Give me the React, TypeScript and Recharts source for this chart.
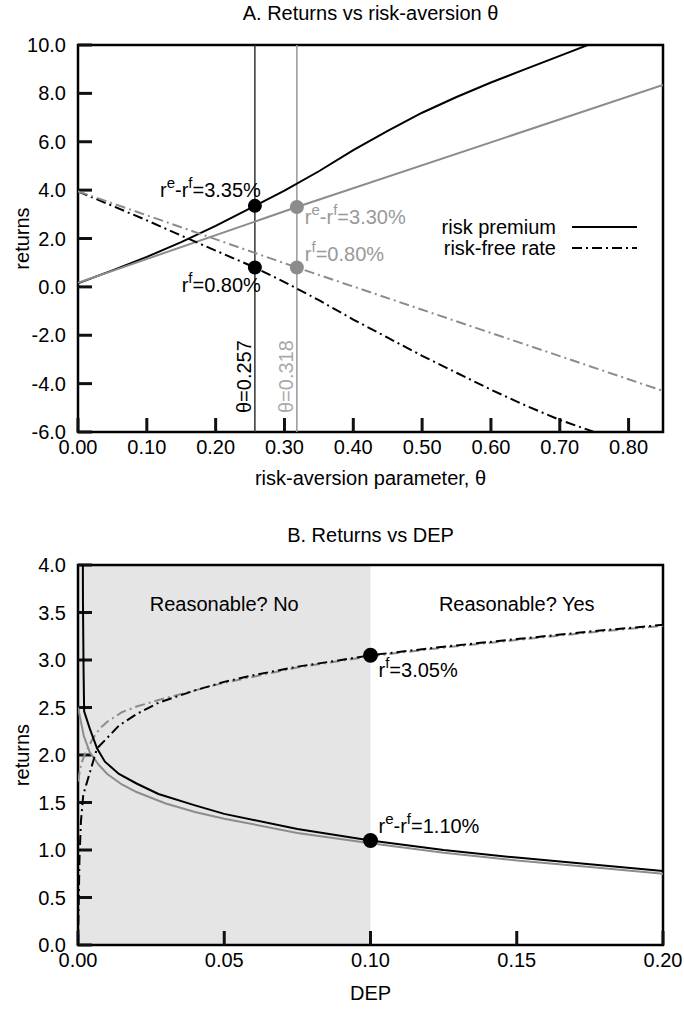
import {
  LineChart,
  Line,
  XAxis,
  YAxis,
  ReferenceLine,
  ReferenceDot,
  ReferenceArea,
  Legend,
} from "recharts";

type Pt = { x: number; y: number };

const FONT = "'Liberation Sans', Arial, Helvetica, sans-serif";
const FS = 20;
const GRAY = "#8c8c8c";
const DASHDOT = "10 4 2 4";
const TICK_PX = 14;
const PLOT_W = 585;

// ---- panel A: returns vs risk-aversion theta ----
const thetaTicks = [0, 0.1, 0.2, 0.3, 0.4, 0.5, 0.6, 0.7, 0.8];
const returnTicksA = [-6, -4, -2, 0, 2, 4, 6, 8, 10];

const premiumA: Pt[] = [
  { x: 0, y: 0.15 }, { x: 0.05, y: 0.68 }, { x: 0.1, y: 1.24 }, { x: 0.15, y: 1.85 },
  { x: 0.2, y: 2.52 }, { x: 0.257, y: 3.35 }, { x: 0.3, y: 3.98 }, { x: 0.35, y: 4.78 },
  { x: 0.4, y: 5.65 }, { x: 0.45, y: 6.45 }, { x: 0.5, y: 7.2 }, { x: 0.55, y: 7.85 },
  { x: 0.6, y: 8.45 }, { x: 0.65, y: 9.0 }, { x: 0.7, y: 9.55 }, { x: 0.75, y: 10.1 },
  { x: 0.8, y: 10.6 }, { x: 0.85, y: 11.05 },
];
const premiumAltA: Pt[] = [
  { x: 0, y: 0.17 }, { x: 0.318, y: 3.3 }, { x: 0.85, y: 8.35 },
];
const riskFreeA: Pt[] = [
  { x: 0, y: 3.95 }, { x: 0.05, y: 3.35 }, { x: 0.1, y: 2.75 }, { x: 0.15, y: 2.12 },
  { x: 0.2, y: 1.5 }, { x: 0.257, y: 0.8 }, { x: 0.3, y: 0.2 }, { x: 0.35, y: -0.55 },
  { x: 0.4, y: -1.35 }, { x: 0.45, y: -2.1 }, { x: 0.5, y: -2.85 }, { x: 0.55, y: -3.55 },
  { x: 0.6, y: -4.25 }, { x: 0.65, y: -4.9 }, { x: 0.7, y: -5.5 }, { x: 0.75, y: -6.0 },
  { x: 0.8, y: -6.45 }, { x: 0.85, y: -6.85 },
];
const riskFreeAltA: Pt[] = [
  { x: 0, y: 3.95 }, { x: 0.318, y: 0.8 }, { x: 0.85, y: -4.3 },
];
const thetaMarks = [
  { theta: 0.257, color: "#333", text: "#000" },
  { theta: 0.318, color: "#999", text: "#aaa" },
];

// ---- panel B: returns vs DEP ----
const depTicks = [0, 0.05, 0.1, 0.15, 0.2];
const returnTicksB = [0, 0.5, 1, 1.5, 2, 2.5, 3, 3.5, 4];

const premiumB: Pt[] = [
  { x: 0.0016, y: 4.6 }, { x: 0.0017, y: 3.6 }, { x: 0.0019, y: 2.9 }, { x: 0.0021, y: 2.46 },
  { x: 0.004, y: 2.28 }, { x: 0.0065, y: 2.07 }, { x: 0.0092, y: 1.93 }, { x: 0.014, y: 1.8 },
  { x: 0.02, y: 1.7 }, { x: 0.0275, y: 1.59 }, { x: 0.04, y: 1.47 }, { x: 0.05, y: 1.38 },
  { x: 0.075, y: 1.22 }, { x: 0.1, y: 1.1 }, { x: 0.125, y: 1.0 }, { x: 0.15, y: 0.92 },
  { x: 0.175, y: 0.85 }, { x: 0.2, y: 0.78 },
];
const premiumAltB: Pt[] = [
  { x: 0, y: 2.5 }, { x: 0.002, y: 2.2 }, { x: 0.004, y: 2.03 }, { x: 0.007, y: 1.9 },
  { x: 0.01, y: 1.8 }, { x: 0.015, y: 1.69 }, { x: 0.02, y: 1.61 }, { x: 0.03, y: 1.49 },
  { x: 0.04, y: 1.4 }, { x: 0.05, y: 1.33 }, { x: 0.075, y: 1.18 }, { x: 0.1, y: 1.07 },
  { x: 0.125, y: 0.97 }, { x: 0.15, y: 0.89 }, { x: 0.175, y: 0.82 }, { x: 0.2, y: 0.75 },
];
const riskFreeB: Pt[] = [
  { x: 0, y: 0 }, { x: 0.0005, y: 0.9 }, { x: 0.001, y: 1.3 }, { x: 0.0018, y: 1.58 },
  { x: 0.0038, y: 1.79 }, { x: 0.0065, y: 2.07 }, { x: 0.01, y: 2.18 }, { x: 0.014, y: 2.31 },
  { x: 0.02, y: 2.43 }, { x: 0.0275, y: 2.55 }, { x: 0.04, y: 2.68 }, { x: 0.05, y: 2.77 },
  { x: 0.06, y: 2.84 }, { x: 0.075, y: 2.93 }, { x: 0.09, y: 3.0 }, { x: 0.1, y: 3.05 },
  { x: 0.125, y: 3.14 }, { x: 0.15, y: 3.22 }, { x: 0.175, y: 3.3 }, { x: 0.2, y: 3.37 },
];
const riskFreeAltB: Pt[] = [
  { x: 0, y: 1.72 }, { x: 0.001, y: 1.9 }, { x: 0.0025, y: 2.02 }, { x: 0.005, y: 2.17 },
  { x: 0.0075, y: 2.28 }, { x: 0.01, y: 2.35 }, { x: 0.015, y: 2.45 }, { x: 0.02, y: 2.51 },
  { x: 0.03, y: 2.6 }, { x: 0.04, y: 2.68 }, { x: 0.05, y: 2.76 }, { x: 0.075, y: 2.92 },
  { x: 0.1, y: 3.04 }, { x: 0.125, y: 3.13 }, { x: 0.15, y: 3.21 }, { x: 0.175, y: 3.29 },
  { x: 0.2, y: 3.36 },
];

// label parts: [text, isSuperscript]
type Part = [string, boolean];
const premiumParts = (v: number): Part[] => [["r", false], ["e", true], ["-r", false], ["f", true], [`=${v.toFixed(2)}%`, false]];
const rfParts = (v: number): Part[] => [["r", false], ["f", true], [`=${v.toFixed(2)}%`, false]];

function SupText({ x, y, parts, anchor, color }: { x: number; y: number; parts: Part[]; anchor: string; color: string }) {
  let prevSup = false;
  return (
    <text x={x} y={y} textAnchor={anchor} fontFamily={FONT} fontSize={FS} fill={color}>
      {parts.map(([t, sup], i) => {
        const dy = sup && !prevSup ? -9 : !sup && prevSup ? 9 : 0;
        prevSup = sup;
        return (
          <tspan key={i} dy={dy} fontSize={sup ? 15 : FS}>
            {t}
          </tspan>
        );
      })}
    </text>
  );
}

function markerShape(color: string, r: number, parts: Part[], dx: number, dy: number, anchor: string, textColor: string) {
  return (p: any) => (
    <g>
      <circle cx={p.cx} cy={p.cy} r={r} fill={color} />
      <SupText x={p.cx + dx} y={p.cy + dy} parts={parts} anchor={anchor} color={textColor} />
    </g>
  );
}

// inward ticks as reference segments (length converted from pixels to data units)
function tickSegments(xTicks: number[], yTicks: number[], xDom: [number, number], yDom: [number, number], plotH: number) {
  const dx = (TICK_PX * (xDom[1] - xDom[0])) / PLOT_W;
  const dy = (TICK_PX * (yDom[1] - yDom[0])) / plotH;
  return [
    ...xTicks.map((t) => (
      <ReferenceLine key={`xt${t}`} segment={[{ x: t, y: yDom[0] }, { x: t, y: yDom[0] + dy }]} stroke="#111" strokeWidth={3} ifOverflow="visible" />
    )),
    ...yTicks.map((t) => (
      <ReferenceLine key={`yt${t}`} segment={[{ x: xDom[0], y: t }, { x: xDom[0] + dx, y: t }]} stroke="#111" strokeWidth={3} ifOverflow="visible" />
    )),
  ];
}

const bottomTick = (digits: number) => (p: any) => (
  <text x={p.x} y={p.y + 22} textAnchor="middle" fontFamily={FONT} fontSize={FS} fill="#000">
    {Number(p.payload.value).toFixed(digits)}
  </text>
);

const leftTick = (p: any) => (
  <text x={p.x - 12} y={p.y + 7} textAnchor="end" fontFamily={FONT} fontSize={FS} fill="#000">
    {Number(p.payload.value).toFixed(1)}
  </text>
);

const xTitle = (text: string, dy: number) => (p: any) => {
  const vb = p.viewBox;
  return (
    <text x={vb.x + vb.width / 2} y={vb.y + dy} textAnchor="middle" fontFamily={FONT} fontSize={FS} fill="#000">
      {text}
    </text>
  );
};

const yTitle = (p: any) => {
  const vb = p.viewBox;
  const cy = vb.y + vb.height / 2;
  return (
    <text x={22} y={cy} transform={`rotate(-90, 22, ${cy})`} textAnchor="middle" dominantBaseline="central" fontFamily={FONT} fontSize={FS} fill="#000">
      returns
    </text>
  );
};

const thetaLabel = (theta: number, color: string) => (p: any) => {
  const vb = p.viewBox;
  const x = vb.x - 11;
  const y = vb.y + vb.height - 19;
  return (
    <text x={x} y={y} transform={`rotate(-90, ${x}, ${y})`} dominantBaseline="central" fontFamily={FONT} fontSize={FS} fill={color}>
      {`θ=${theta.toFixed(3)}`}
    </text>
  );
};

function LegendA() {
  return (
    <svg width={240} height={48} style={{ display: "block" }}>
      <text x={156} y={21} textAnchor="end" fontFamily={FONT} fontSize={FS}>risk premium</text>
      <line x1={172} x2={237} y1={14} y2={14} stroke="#000" strokeWidth={2} />
      <text x={156} y={42} textAnchor="end" fontFamily={FONT} fontSize={FS}>risk-free rate</text>
      <line x1={172} x2={237} y1={35} y2={35} stroke="#000" strokeWidth={2} strokeDasharray={DASHDOT} />
    </svg>
  );
}

const titleStyle = (top: number): React.CSSProperties => ({
  position: "absolute",
  top,
  left: 78,
  width: 585,
  textAlign: "center",
  fontFamily: FONT,
  fontSize: FS,
  lineHeight: "24px",
  color: "#000",
});

export default function App() {
  return (
    <div style={{ position: "absolute", left: 0, top: 0, width: 684, height: 1014, background: "#fff" }}>
      <div style={{ position: "absolute", left: 0, top: 0, width: 684, height: 500 }}>
        <div style={titleStyle(1)}>A. Returns vs risk-aversion θ</div>
        <LineChart width={684} height={500} margin={{ top: 45, right: 21, bottom: 0, left: 0 }}>
          <ReferenceArea x1={0} x2={0.85} y1={-6} y2={10} fill="#fff" fillOpacity={0} stroke="#000" strokeWidth={2.5} />
          <XAxis
            type="number"
            dataKey="x"
            domain={[0, 0.85]}
            ticks={thetaTicks}
            allowDataOverflow
            height={68}
            tickSize={0}
            tickMargin={0}
            axisLine={false}
            tickLine={false}
            tick={bottomTick(2)}
            label={{ content: xTitle("risk-aversion parameter, θ", 53) }}
          />
          <YAxis
            type="number"
            domain={[-6, 10]}
            ticks={returnTicksA}
            allowDataOverflow
            width={78}
            tickSize={0}
            tickMargin={0}
            axisLine={false}
            tickLine={false}
            tick={leftTick}
            label={{ content: yTitle }}
          />
          {tickSegments(thetaTicks, returnTicksA, [0, 0.85], [-6, 10], 387)}
          {thetaMarks.map((m) => (
            <ReferenceLine
              key={m.theta}
              x={m.theta}
              stroke={m.color}
              strokeWidth={1.5}
              label={{ content: thetaLabel(m.theta, m.text) }}
            />
          ))}
          <Line data={premiumA} dataKey="y" stroke="#000" strokeWidth={2} dot={false} activeDot={false} isAnimationActive={false} />
          <Line data={premiumAltA} dataKey="y" stroke={GRAY} strokeWidth={2} dot={false} activeDot={false} isAnimationActive={false} />
          <Line data={riskFreeA} dataKey="y" stroke="#000" strokeWidth={2} strokeDasharray={DASHDOT} dot={false} activeDot={false} isAnimationActive={false} />
          <Line data={riskFreeAltA} dataKey="y" stroke={GRAY} strokeWidth={2} strokeDasharray={DASHDOT} dot={false} activeDot={false} isAnimationActive={false} />
          <ReferenceDot x={0.257} y={3.35} shape={markerShape("#000", 7, premiumParts(3.35), 6, -9, "end", "#000")} />
          <ReferenceDot x={0.257} y={0.8} shape={markerShape("#000", 7, rfParts(0.8), 6, 24, "end", "#000")} />
          <ReferenceDot x={0.318} y={3.3} shape={markerShape(GRAY, 7, premiumParts(3.3), 8, 17, "start", "#999")} />
          <ReferenceDot x={0.318} y={0.8} shape={markerShape(GRAY, 7, rfParts(0.8), 8, -7, "start", "#999")} />
          <Legend
            layout="vertical"
            align="center"
            verticalAlign="middle"
            wrapperStyle={{ left: 400, top: 213, width: 240, height: 48 }}
            content={() => <LegendA />}
          />
        </LineChart>
      </div>

      <div style={{ position: "absolute", left: 0, top: 500, width: 684, height: 514 }}>
        <div style={titleStyle(23)}>B. Returns vs DEP</div>
        <LineChart width={684} height={514} margin={{ top: 65, right: 21, bottom: 0, left: 0 }}>
          <ReferenceArea
            x1={0}
            x2={0.1}
            y1={0}
            y2={4}
            fill="#e5e5e5"
            fillOpacity={1}
            stroke="none"
            label={{ value: "Reasonable? No", position: "insideTop", offset: 32, fontFamily: FONT, fontSize: FS, fill: "#000" }}
          />
          <ReferenceArea
            x1={0.1}
            x2={0.2}
            y1={0}
            y2={4}
            fill="#fff"
            fillOpacity={0}
            stroke="none"
            label={{ value: "Reasonable? Yes", position: "insideTop", offset: 32, fontFamily: FONT, fontSize: FS, fill: "#000" }}
          />
          <ReferenceArea x1={0} x2={0.2} y1={0} y2={4} fill="#fff" fillOpacity={0} stroke="#000" strokeWidth={2.5} />
          <XAxis
            type="number"
            dataKey="x"
            domain={[0, 0.2]}
            ticks={depTicks}
            allowDataOverflow
            height={69}
            tickSize={0}
            tickMargin={0}
            axisLine={false}
            tickLine={false}
            tick={bottomTick(2)}
            label={{ content: xTitle("DEP", 55) }}
          />
          <YAxis
            type="number"
            domain={[0, 4]}
            ticks={returnTicksB}
            allowDataOverflow
            width={78}
            tickSize={0}
            tickMargin={0}
            axisLine={false}
            tickLine={false}
            tick={leftTick}
            label={{ content: yTitle }}
          />
          {tickSegments(depTicks, returnTicksB, [0, 0.2], [0, 4], 380)}
          <Line data={premiumAltB} dataKey="y" stroke={GRAY} strokeWidth={2} dot={false} activeDot={false} isAnimationActive={false} />
          <Line data={riskFreeAltB} dataKey="y" stroke={GRAY} strokeWidth={2} strokeDasharray={DASHDOT} dot={false} activeDot={false} isAnimationActive={false} />
          <Line data={premiumB} dataKey="y" stroke="#000" strokeWidth={2} dot={false} activeDot={false} isAnimationActive={false} />
          <Line data={riskFreeB} dataKey="y" stroke="#000" strokeWidth={2} strokeDasharray={DASHDOT} dot={false} activeDot={false} isAnimationActive={false} />
          <ReferenceDot x={0.1} y={3.05} shape={markerShape("#000", 7.5, rfParts(3.05), 8, 22, "start", "#000")} />
          <ReferenceDot x={0.1} y={1.1} shape={markerShape("#000", 7.5, premiumParts(1.1), 8, -8, "start", "#000")} />
        </LineChart>
      </div>
    </div>
  );
}
